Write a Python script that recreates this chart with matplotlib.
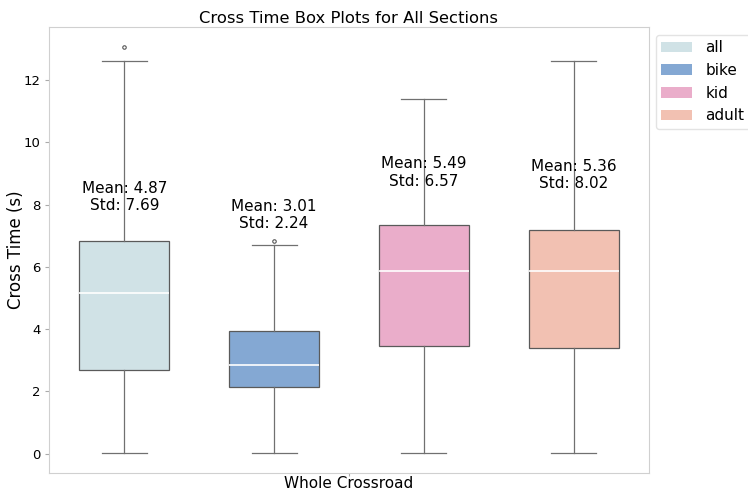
import matplotlib
matplotlib.use("Agg")
import matplotlib.pyplot as plt
from matplotlib.patches import Patch

# Box statistics per group (seconds)
groups = ["all", "bike", "kid", "adult"]
q1 = [2.69, 2.15, 3.46, 3.40]
median = [5.17, 2.86, 5.87, 5.87]
q3 = [6.83, 3.95, 7.35, 7.19]
whislo = [0.03, 0.03, 0.03, 0.03]
whishi = [12.62, 6.69, 11.40, 12.62]
fliers = [[13.06], [6.84], [], []]
means = [4.87, 3.01, 5.49, 5.36]
stds = [7.69, 2.24, 6.57, 8.02]
label_y = [8.24, 7.67, 9.03, 8.95]
colors = ["#d0e2e6", "#84a8d3", "#eaadca", "#f2c1b2"]
category = "Whole Crossroad"

positions = [-0.375, -0.125, 0.125, 0.375]

fig, ax = plt.subplots(figsize=(7.48, 4.9), dpi=100)
fig.subplots_adjust(left=0.066, right=0.867, top=0.945, bottom=0.035)

stats = []
for i, g in enumerate(groups):
    stats.append(dict(label=g, q1=q1[i], med=median[i], q3=q3[i],
                      whislo=whislo[i], whishi=whishi[i], fliers=fliers[i]))

bp = ax.bxp(stats, positions=positions, widths=0.15, patch_artist=True,
            showfliers=True,
            boxprops=dict(edgecolor="#5a5a5a", linewidth=0.9),
            medianprops=dict(color="white", linewidth=1.2),
            whiskerprops=dict(color="#707070", linewidth=0.9),
            capprops=dict(color="#707070", linewidth=0.9),
            flierprops=dict(marker="o", markersize=2.5, markerfacecolor="none",
                            markeredgecolor="#555555", markeredgewidth=0.8))
for patch, c in zip(bp["boxes"], colors):
    patch.set_facecolor(c)

for x, m, s, y in zip(positions, means, stds, label_y):
    ax.text(x, y, f"Mean: {m:.2f}\nStd: {s:.2f}", ha="center", va="center",
            fontsize=11)

ax.set_xlim(-0.5, 0.5)
ax.set_ylim(-0.62, 13.71)
ax.set_xticks([0])
ax.set_xticklabels([category], fontsize=11)
ax.set_yticks(range(0, 13, 2))
ax.tick_params(axis="y", labelsize=9.5, length=3, color="#aaaaaa")
ax.tick_params(axis="x", length=2, color="#aaaaaa", pad=0.5)
ax.set_ylabel("Cross Time (s)", fontsize=12)
ax.yaxis.set_label_coords(-0.04, 0.5)
ax.set_title("Cross Time Box Plots for All Sections", fontsize=11.8, pad=3)
for sp in ax.spines.values():
    sp.set_color("#d0d0d0")

handles = [Patch(facecolor=c, label=g) for g, c in zip(groups, colors)]
ax.legend(handles=handles, loc="upper left", bbox_to_anchor=(1.012, 0.982),
          fontsize=11, frameon=True, edgecolor="#dddddd", borderaxespad=0,
          handlelength=2.0, handletextpad=0.9, borderpad=0.35)

fig.savefig("out.png", dpi=100)
